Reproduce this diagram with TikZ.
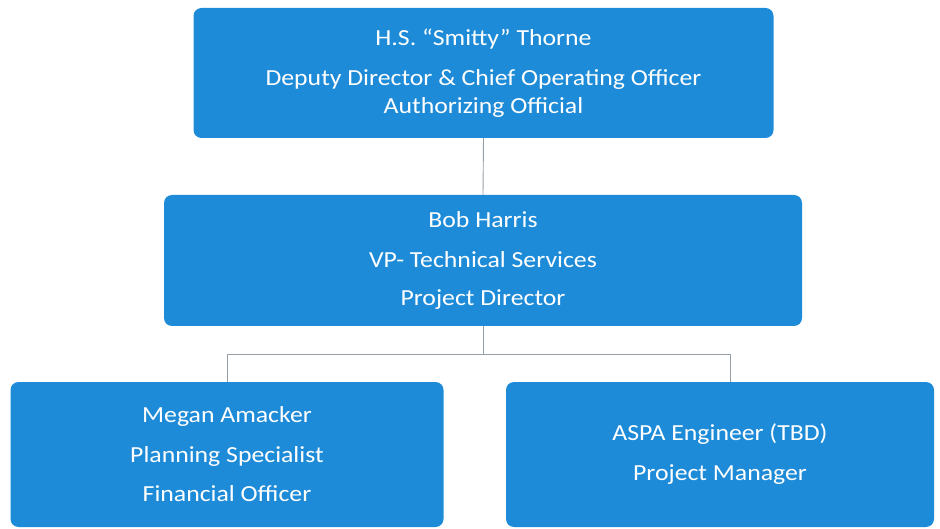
\documentclass[tikz,border=0pt]{standalone}
\usepackage{fontspec}
\setmainfont{Carlito}[FakeStretch=1.12]
\usepackage{tikz}
\usetikzlibrary{calc}

\definecolor{boxblue}{RGB}{30,139,216}
\definecolor{linegrey}{RGB}{150,158,166}

\begin{document}
\begin{tikzpicture}[x=1pt, y=-1pt,
    orgbox/.style={rectangle, rounded corners=8pt, fill=boxblue, text=white,
        align=center, inner sep=0pt, font=\fontsize{23}{29}\selectfont},
    orgline/.style={draw=linegrey, line width=0.9pt}]
    \useasboundingbox (0,0) rectangle (940,529);

    % Top level
    \node[orgbox, minimum width=580pt, minimum height=130pt] (thorne) at (483.5,73)
        {H.S. “Smitty” Thorne\\[11pt] Deputy Director \& Chief Operating Officer\\[-1pt] Authorizing Official};

    % Second level
    \node[orgbox, minimum width=638pt, minimum height=131pt] (harris) at (483,260.5)
        {Bob Harris\\[11pt] VP- Technical Services\\[9pt] Project Director};

    % Third level
    \node[orgbox, minimum width=433pt, minimum height=145pt] (amacker) at (227,454.5)
        {Megan Amacker\\[11pt] Planning Specialist\\[10pt] Financial Officer};
    \node[orgbox, minimum width=428pt, minimum height=145pt] (aspa) at (720,454.5)
        {ASPA Engineer (TBD)\\[11pt] Project Manager};

    % Connectors
    \coordinate (split) at ($(harris.south)+(0,28)$);
    \coordinate (aspa top) at ($(aspa.north)+(10,0)$);
    \draw[orgline] (thorne.south) -- (harris.north);
    \draw[orgline] (harris.south) -- (split);
    \draw[orgline] (split) -| (amacker.north);
    \draw[orgline] (split) -| (aspa top);
\end{tikzpicture}
\end{document}
